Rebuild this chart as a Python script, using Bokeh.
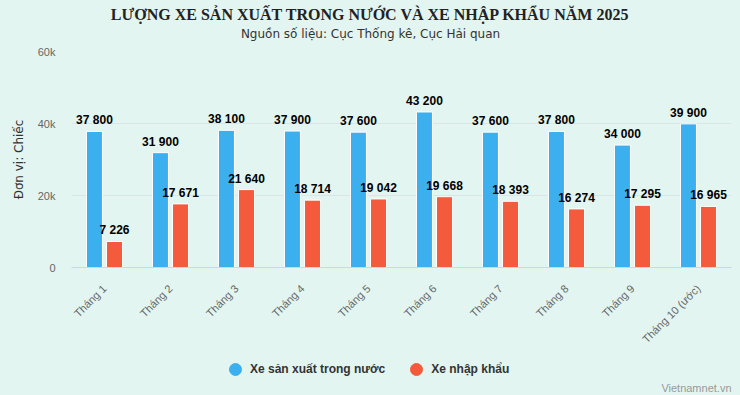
import math
from bokeh.plotting import figure
from bokeh.layouts import column
from bokeh.models import (ColumnDataSource, FixedTicker, Label, Legend, LegendItem,
                          Range1d, FactorRange)
from bokeh.transform import dodge
from bokeh.core.properties import value
from bokeh.embed import file_html
from bokeh.resources import INLINE

# ---------------- data ----------------
months = ["Tháng 1", "Tháng 2", "Tháng 3", "Tháng 4", "Tháng 5",
          "Tháng 6", "Tháng 7", "Tháng 8", "Tháng 9", "Tháng 10 (ước)"]
domestic = [37800, 31900, 38100, 37900, 37600, 43200, 37600, 37800, 34000, 39900]
imported = [7226, 17671, 21640, 18714, 19042, 19668, 18393, 16274, 17295, 16965]
series_names = ["Xe sản xuất trong nước", "Xe nhập khẩu"]
y_ticks = [0, 20000, 40000, 60000]
y_tick_labels = ["0", "20k", "40k", "60k"]

title_text = "LƯỢNG XE SẢN XUẤT TRONG NƯỚC VÀ XE NHẬP KHẨU NĂM 2025"
subtitle_text = "Nguồn số liệu: Cục Thống kê, Cục Hải quan"
y_axis_title = "Đơn vị: Chiếc"
credit_text = "Vietnamnet.vn"

# ---------------- style ----------------
BG = "#e3f5f0"
BLUE = "#3cb0ef"
RED = "#f45a3c"
GRID = "#dbe5e8"
W_TOTAL = 740
H_HEAD, H_MAIN, H_FOOT = 41, 317, 37
LEFT, RIGHT = 71, 9


def fmt(v):
    return f"{v:,}".replace(",", " ")


def blank(height, y0):
    # x data == page pixel, y data == page pixel (frames are aligned in the column)
    f = figure(width=W_TOTAL, height=height, x_range=Range1d(LEFT, W_TOTAL - RIGHT),
               y_range=Range1d(y0 + height, y0), output_backend="svg",
               toolbar_location=None, x_axis_location=None, y_axis_location=None,
               min_border_left=LEFT, min_border_right=RIGHT,
               min_border_top=0, min_border_bottom=0,
               background_fill_color=BG, border_fill_color=BG,
               outline_line_color=None)
    f.xgrid.visible = False
    f.ygrid.visible = False
    return f


# ---------------- header ----------------
head = blank(H_HEAD, 0)
head.add_layout(Label(x=370, y=14, text=title_text,
                      text_align="center", text_baseline="middle",
                      text_font="Liberation Serif", text_font_style="bold",
                      text_font_size="16px", text_color="#222222"))
head.add_layout(Label(x=370, y=33, text=subtitle_text,
                      text_align="center", text_baseline="middle",
                      text_font="DejaVu Sans", text_font_size="12px", text_color="#333333"))

# ---------------- main chart ----------------
src = ColumnDataSource(dict(
    m=months, d=domestic, i=imported,
    dl=[fmt(v) for v in domestic], il=[fmt(v) for v in imported],
))

p = figure(width=W_TOTAL, height=H_MAIN,
           x_range=FactorRange(*months), y_range=Range1d(0, 60000),
           output_backend="svg", toolbar_location=None,
           min_border_left=LEFT, min_border_right=RIGHT, min_border_top=10,
           min_border_bottom=H_HEAD + H_MAIN - 267,
           background_fill_color=BG, border_fill_color=BG, outline_line_color=None)

OFF = 0.152
W = 0.242
p.vbar(x=dodge("m", -OFF, range=p.x_range), top="d", width=W, source=src,
       fill_color=BLUE, line_color="white", line_width=1)
p.vbar(x=dodge("m", OFF, range=p.x_range), top="i", width=W, source=src,
       fill_color=RED, line_color="white", line_width=1)

for col, lab, off in (("d", "dl", -OFF), ("i", "il", OFF)):
    p.text(x=dodge("m", off, range=p.x_range), y=col, text=lab, source=src,
           text_align="center", text_baseline="bottom", y_offset=-4,
           text_font=value("Liberation Sans"), text_font_style="bold",
           text_font_size="12px", text_color="black")

p.yaxis.ticker = FixedTicker(ticks=y_ticks)
p.yaxis.major_label_overrides = {t: l for t, l in zip(y_ticks, y_tick_labels)}
p.yaxis.axis_line_color = None
p.yaxis.major_tick_line_color = None
p.yaxis.minor_tick_line_color = None
p.yaxis.major_tick_out = 0
p.yaxis.major_label_standoff = 16
p.yaxis.major_label_text_font = "Liberation Sans"
p.yaxis.major_label_text_font_size = "11px"
p.yaxis.major_label_text_color = "#666666"
p.yaxis.axis_label = y_axis_title
p.yaxis.axis_label_text_font = "DejaVu Sans"
p.yaxis.axis_label_text_font_style = "normal"
p.yaxis.axis_label_text_font_size = "12px"
p.yaxis.axis_label_text_color = "#333333"
p.yaxis.axis_label_standoff = 9

p.xaxis.axis_line_color = "#ccd6eb"
p.xaxis.major_tick_line_color = None
p.xaxis.minor_tick_line_color = None
p.xaxis.major_tick_out = 0
p.xaxis.major_label_orientation = math.pi / 4
p.xaxis.major_label_standoff = 19
p.xaxis.major_label_text_font = "Liberation Sans"
p.xaxis.major_label_text_font_size = "11px"
p.xaxis.major_label_text_color = "#666666"

p.xgrid.grid_line_color = None
p.ygrid.ticker = FixedTicker(ticks=y_ticks)
p.ygrid.grid_line_color = GRID

# ---------------- footer: legend + credit ----------------
foot = blank(H_FOOT, H_HEAD + H_MAIN)
r1 = foot.scatter(x=[-1000], y=[-1000], marker="circle", color=BLUE)
r2 = foot.scatter(x=[-1000], y=[-1000], marker="circle", color=RED)
legend = Legend(items=[LegendItem(label=series_names[0], renderers=[r1]),
                       LegendItem(label=series_names[1], renderers=[r2])],
                orientation="horizontal", location=(149, 11),
                glyph_width=30, glyph_height=30, label_standoff=0, spacing=16,
                padding=0, margin=0, border_line_color=None,
                background_fill_alpha=0,
                label_text_font="Liberation Sans", label_text_font_style="bold",
                label_text_font_size="12px", label_text_color="#333333")
foot.add_layout(legend)
foot.add_layout(Label(x=731, y=387, text=credit_text,
                      text_align="right", text_baseline="middle",
                      text_font="Liberation Sans", text_font_size="11px", text_color="#999999"))

layout = column(head, p, foot, spacing=0)
layout.styles = {"background-color": BG}
html = file_html(layout, INLINE, title="Lượng xe 2025")
html = html.replace("</head>", "<style>html, body { background: %s; }</style></head>" % BG, 1)
open("out.html", "w").write(html)
